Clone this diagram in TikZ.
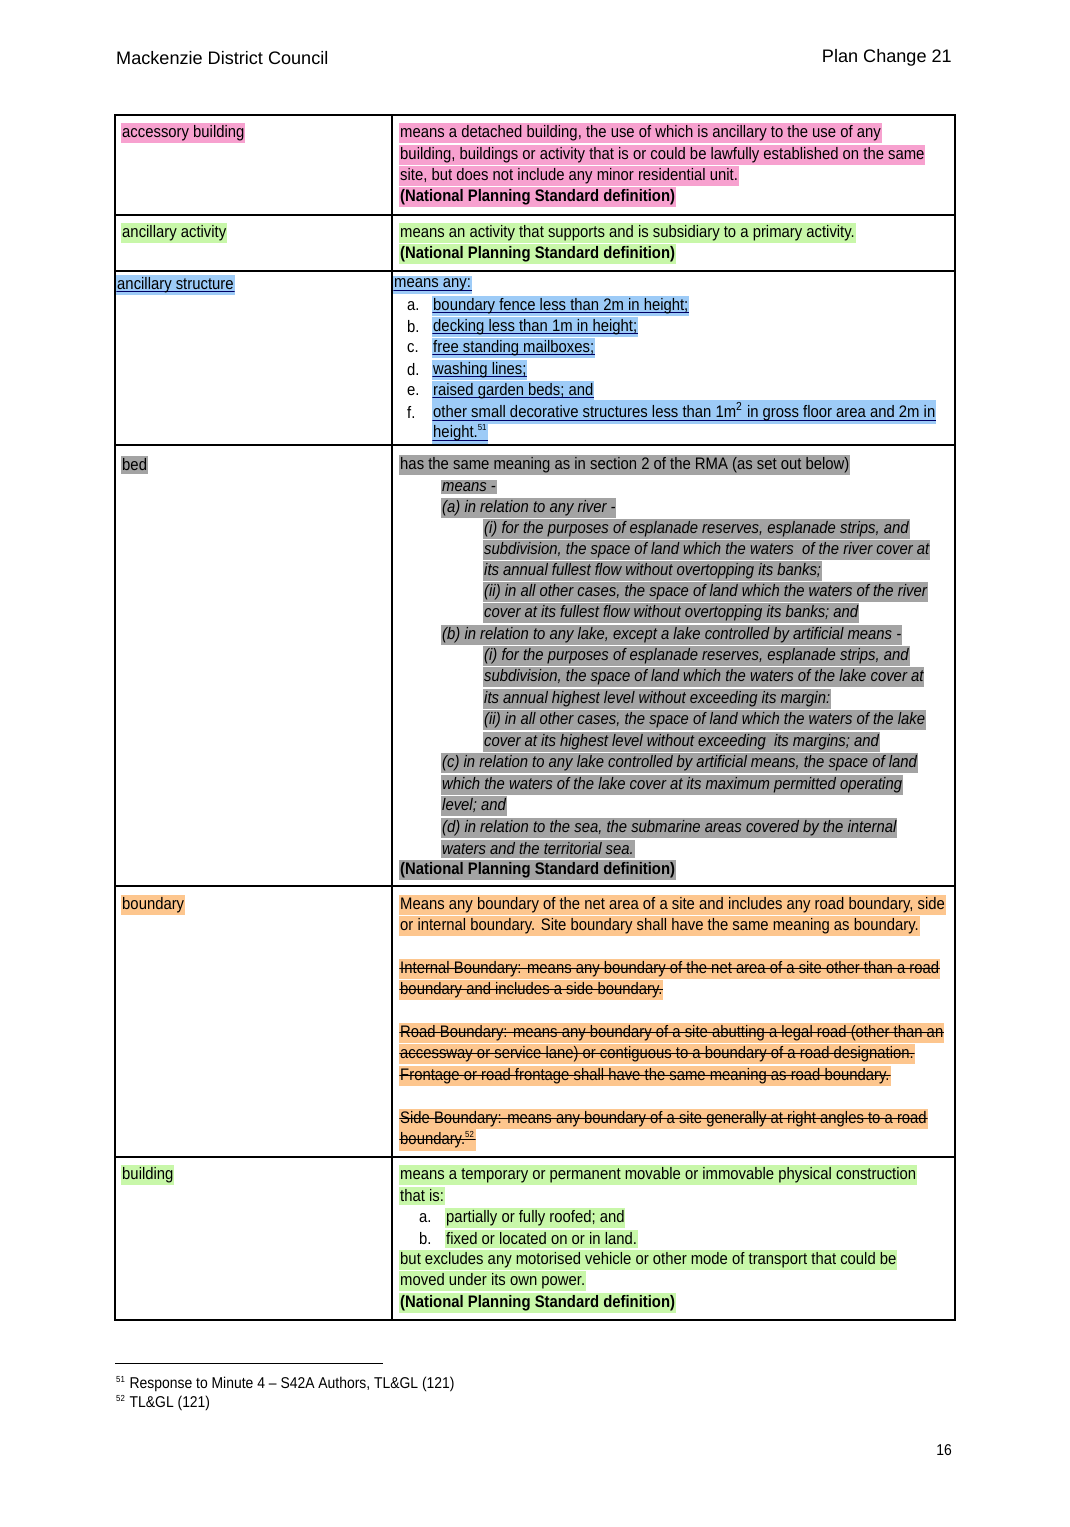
\documentclass[tikz,border=0pt]{standalone}
\usepackage{fontspec}
\setmainfont{Liberation Sans}[FakeStretch=0.89]
\newfontfamily\headfont{Liberation Sans}
\definecolor{hlpink}{HTML}{F7A1CF}
\definecolor{hlgreen}{HTML}{C8F7A9}
\definecolor{hlblue}{HTML}{9DCBF7}
\definecolor{hlgrey}{HTML}{A3A3A3}
\definecolor{hlorange}{HTML}{FDC68E}
\tikzset{
  txt/.style={anchor=west, inner xsep=0.5pt, inner ysep=1.5pt, font=\fontsize{9.5}{11}\selectfont},
  pinkhl/.style={txt, fill=hlpink},
  greenhl/.style={txt, fill=hlgreen},
  bluehl/.style={txt, fill=hlblue},
  greyhl/.style={txt, fill=hlgrey},
  orangehl/.style={txt, fill=hlorange},
  plain/.style={txt},
  ul/.style={path picture={\draw[line width=0.4pt, blue!40!black]
    ([yshift=2.2pt]path picture bounding box.south west) -- ([yshift=2.2pt]path picture bounding box.south east);}},
  st/.style={path picture={\draw[line width=0.4pt]
    ([yshift=0.6pt]path picture bounding box.west) -- ([yshift=0.6pt]path picture bounding box.east);}},
  rule/.style={line width=0.6pt}
}
\begin{document}
\begin{tikzpicture}[x=0.02cm, y=-0.02cm]
  \useasboundingbox (0,0) rectangle (1069,1527);
  % header
  \node[plain, font=\headfont\fontsize{10.3}{12}\selectfont] (head) at (115,58) {Mackenzie District Council};
  \node[plain, anchor=east, font=\headfont\fontsize{10.3}{12}\selectfont] (plan) at (953,58) {Plan Change 21};

  % table frame
  \draw[rule] (115,115) rectangle (955,1320);
  \draw[rule] (392,115) -- (392,1320);
  \foreach \yy in {215,886,1157}
    \draw[rule] (115,\yy) -- (955,\yy);
  \foreach \yy in {271,445}
    \draw[line width=1.3pt] (115,\yy) -- (955,\yy);

  % accessory building
  \node[pinkhl] (accL) at (121,133) {accessory building};
  \node[pinkhl] (acc1) at (399,133) {means a detached building, the use of which is ancillary to the use of any};
  \node[pinkhl] (acc2) at (399,155) {building, buildings or activity that is or could be lawfully established on the same};
  \node[pinkhl] (acc3) at (399,176) {site, but does not include any minor residential unit.};
  \node[pinkhl] (acc4) at (399,197) {\bfseries (National Planning Standard definition)};

  % ancillary activity
  \node[greenhl] (ancL) at (121,233) {ancillary activity};
  \node[greenhl] (anc1) at (399,233) {means an activity that supports and is subsidiary to a primary activity.};
  \node[greenhl] (anc2) at (399,254) {\bfseries (National Planning Standard definition)};

  % ancillary structure
  \node[bluehl, ul] (strL) at (116,285) {ancillary structure};
  \node[bluehl, ul] (str0) at (393,285) {means any:};
  \foreach \lt/\yy/\tx in {a./306/{boundary fence less than 2m in height;},
                          b./327/{decking less than 1m in height;},
                          c./348/{free standing mailboxes;},
                          d./370/{washing lines;},
                          e./391/{raised garden beds; and},
                          f./412/{other small decorative structures less than 1m\textsuperscript{2} in gross floor area and 2m in}}
  {
    \node[plain] (strl\lt) at (406,\yy) {\lt};
    \node[bluehl, ul] (stri\lt) at (432,\yy) {\tx};
  };
  \node[bluehl, ul] (strf2) at (432,433) {height.\textsuperscript{\tiny 51}};

  % bed
  \node[greyhl] (bedL) at (121,465) {bed};
  \node[greyhl] (bed0) at (399,465) {has the same meaning as in section 2 of the RMA (as set out below)};
  \foreach \xx/\yy/\tx in {441/487/{means -},
                          441/508/{(a) in relation to any river -},
                          483/529/{(i) for the purposes of esplanade reserves, esplanade strips, and},
                          483/550/{subdivision, the space of land which the waters \ of the river cover at},
                          483/571/{its annual fullest flow without overtopping its banks;},
                          483/592/{(ii) in all other cases, the space of land which the waters of the river},
                          483/613/{cover at its fullest flow without overtopping its banks; and},
                          441/635/{(b) in relation to any lake, except a lake controlled by artificial means -},
                          483/656/{(i) for the purposes of esplanade reserves, esplanade strips, and},
                          483/677/{subdivision, the space of land which the waters of the lake cover at},
                          483/699/{its annual highest level without exceeding its margin:},
                          483/720/{(ii) in all other cases, the space of land which the waters of the lake},
                          483/742/{cover at its highest level without exceeding \ its margins; and},
                          441/763/{(c) in relation to any lake controlled by artificial means, the space of land},
                          441/785/{which the waters of the lake cover at its maximum permitted operating},
                          441/806/{level; and},
                          441/828/{(d) in relation to the sea, the submarine areas covered by the internal},
                          441/849/{waters and the territorial sea.}}
    \node[greyhl] at (\xx,\yy) {\itshape\tx};
  \node[greyhl] (bedN) at (399,870) {\bfseries (National Planning Standard definition)};

  % boundary
  \node[orangehl] (bndL) at (121,905) {boundary};
  \node[orangehl] (bnd1) at (399,905) {Means any boundary of the net area of a site and includes any road boundary, side};
  \node[orangehl] (bnd2) at (399,926) {or internal boundary. Site boundary shall have the same meaning as boundary.};
  \foreach \yy/\tx in {969/{Internal Boundary: means any boundary of the net area of a site other than a road},
                      990/{boundary and includes a side boundary.},
                      1033/{Road Boundary: means any boundary of a site abutting a legal road (other than an},
                      1054/{accessway or service lane) or contiguous to a boundary of a road designation.},
                      1076/{Frontage or road frontage shall have the same meaning as road boundary.},
                      1119/{Side Boundary: means any boundary of a site generally at right angles to a road}}
    \node[orangehl, st] at (399,\yy) {\tx};
  \node[orangehl, st] (bndE) at (399,1140) {boundary.\textsuperscript{\tiny 52}};

  % building
  \node[greenhl] (bldL) at (121,1175) {building};
  \node[greenhl] (bld1) at (399,1175) {means a temporary or permanent movable or immovable physical construction};
  \node[greenhl] (bld2) at (399,1196) {that is:};
  \node[plain] (bldla) at (418,1218) {a.};
  \node[greenhl] (bld3) at (445,1218) {partially or fully roofed; and};
  \node[plain] (bldlb) at (418,1239) {b.};
  \node[greenhl] (bld4) at (445,1239) {fixed or located on or in land.};
  \node[greenhl] (bld5) at (399,1260) {but excludes any motorised vehicle or other mode of transport that could be};
  \node[greenhl] (bld6) at (399,1281) {moved under its own power.};
  \node[greenhl] (bld7) at (399,1303) {\bfseries (National Planning Standard definition)};

  % footnotes
  \draw[line width=0.5pt] (115,1363) -- (383,1363);
  \node[plain, font=\fontsize{8.9}{10}\selectfont] (fn1) at (115,1384) {\textsuperscript{\tiny 51} Response to Minute 4 -- S42A Authors, TL\&GL (121)};
  \node[plain, font=\fontsize{8.9}{10}\selectfont] (fn2) at (115,1403) {\textsuperscript{\tiny 52} TL\&GL (121)};
  \node[plain, anchor=east, font=\fontsize{8.9}{10}\selectfont] (pg) at (953,1450) {16};
\end{tikzpicture}
\end{document}
